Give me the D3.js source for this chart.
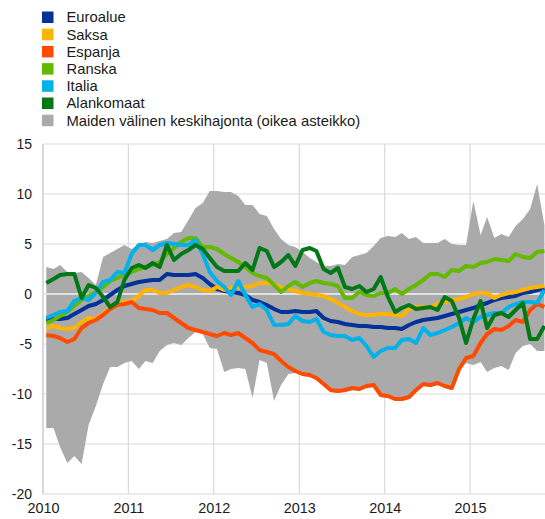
<!DOCTYPE html>
<html>
<head>
<meta charset="utf-8">
<script src="https://cdn.jsdelivr.net/npm/d3@7/dist/d3.min.js"></script>
<style>
  html, body { margin: 0; padding: 0; background: #fff; }
  svg { display: block; font-family: "Liberation Sans", Arial, sans-serif; }
</style>
</head>
<body>
<svg id="chart" width="545" height="519"></svg>
<script>
// Monthly observations, January 2010 – November 2015
const firstYear = 2010;
const monthCount = 71;

const seriesNames = ["Euroalue", "Saksa", "Espanja", "Ranska", "Italia", "Alankomaat"];
const seriesColors = ["#003299", "#ffb400", "#ff4b00", "#65b800", "#00b1ea", "#007816"];
const bandName = "Maiden välinen keskihajonta (oikea asteikko)";
const bandColor = "#aaaaaa";

const euroalue = [
  -2.5, -2.5, -2.5, -2.4, -2.0, -1.6, -1.2, -1.0, -0.6, -0.1, 0.4, 0.8,
  1.0, 1.2, 1.3, 1.4, 1.4, 2.0, 1.9, 1.9, 1.9, 2.0, 1.6, 1.0,
  0.5, 0.3, 0.2, 0.1, -0.1, -0.6, -0.8, -1.1, -1.5, -1.8, -1.8, -1.7,
  -1.8, -1.8, -1.7, -2.4, -2.7, -2.8, -3.0, -3.1, -3.2, -3.2, -3.3, -3.3,
  -3.4, -3.4, -3.5, -3.1, -2.8, -2.6, -2.5, -2.4, -2.2, -2.0, -1.8, -1.6,
  -1.4, -1.1, -0.9, -0.6, -0.4, -0.3, -0.2, 0.1, 0.2, 0.4, 0.6
];
const saksa = [
  -3.4, -3.2, -3.4, -3.5, -3.4, -2.8, -2.4, -2.5, -2.0, -1.3, -1.0, -0.8,
  -0.7, -0.2, 0.4, 0.4, 0.1, 0.1, 0.4, 0.7, 0.9, 0.7, 0.4, 0.3,
  0.7, 0.4, 0.6, 0.7, 0.7, 0.8, 1.1, 1.1, 1.0, 0.6, 0.5, 0.3,
  0.1, 0.0, -0.1, -0.2, -0.5, -0.9, -1.3, -1.7, -2.0, -2.1, -2.1, -2.0,
  -2.0, -2.1, -2.2, -1.5, -1.3, -1.3, -1.3, -1.0, -0.8, -0.6, -0.5, -0.3,
  0.0, 0.1, 0.1, -0.4, -0.1, 0.1, 0.2, 0.4, 0.6, 0.7, 0.8
];
const espanja = [
  -4.1, -4.2, -4.4, -4.8, -4.5, -3.4, -2.9, -2.6, -2.1, -1.5, -1.1, -1.0,
  -0.8, -1.4, -1.5, -1.6, -1.9, -1.9, -2.4, -2.9, -3.4, -3.6, -3.8, -4.0,
  -4.2, -3.9, -4.1, -3.9, -4.4, -4.9, -5.6, -5.8, -6.0, -6.7, -7.3, -7.7,
  -8.0, -8.1, -8.4, -9.0, -9.6, -9.7, -9.6, -9.4, -9.5, -9.2, -9.1, -10.1,
  -10.2, -10.5, -10.5, -10.3, -9.6, -9.0, -9.1, -8.9, -9.2, -9.4, -7.5, -6.4,
  -6.2, -4.9, -4.0, -3.5, -3.6, -3.2, -2.6, -2.8, -1.6, -1.0, -1.3
];
const ranska = [
  -2.9, -2.6, -2.2, -1.8, -1.2, -0.6, -0.2, 0.2, 0.7, 1.3, 1.6, 1.9,
  2.2, 2.5, 2.7, 2.9, 3.2, 4.0, 4.6, 5.2, 5.6, 5.6, 4.7, 4.7,
  4.5, 4.0, 3.6, 3.2, 2.7, 2.1, 1.8, 1.6, 0.9, 0.2, 0.8, 1.2,
  0.7, 1.1, 1.3, 1.1, 1.0, 0.8, -0.4, -0.4, 0.2, -0.1, -0.2, 0.1,
  0.1, 0.5, 0.0, 0.5, 0.9, 1.4, 2.0, 2.0, 1.7, 2.4, 2.3, 2.8,
  2.7, 3.1, 3.2, 3.5, 3.4, 3.3, 4.0, 3.7, 3.6, 4.2, 4.3
];
const italia = [
  -2.4, -2.1, -1.8, -1.7, -0.7, -0.4, -0.6, 0.1, 1.2, 1.4, 2.2, 2.1,
  4.0, 4.9, 4.9, 4.4, 4.9, 5.1, 5.0, 4.9, 4.9, 5.4, 4.0, 2.2,
  1.3, 0.7, -0.1, 1.3, -0.1, -1.3, -1.0, -1.6, -3.1, -3.1, -3.0, -2.2,
  -2.7, -2.8, -2.5, -3.8, -4.1, -4.2, -4.2, -4.6, -4.4, -5.2, -6.3, -5.7,
  -5.4, -5.4, -4.6, -4.5, -4.9, -3.4, -4.1, -3.9, -3.6, -3.3, -2.9, -2.4,
  -2.8, -2.3, -2.1, -1.9, -1.9, -1.3, -1.0, -0.8, -0.8, -0.9, 0.4
];
const alankomaat = [
  1.1, 1.5, 1.9, 2.0, 2.0, -0.4, 0.9, 0.6, -0.3, -1.3, -0.8, 1.4,
  2.6, 2.9, 2.6, 3.1, 2.7, 4.9, 3.4, 4.0, 4.4, 4.9, 4.5, 3.6,
  2.7, 2.3, 2.3, 2.3, 3.1, 2.4, 4.6, 4.3, 2.7, 3.2, 3.9, 2.8,
  4.4, 4.6, 4.3, 2.5, 2.1, 2.6, 0.7, 0.5, 0.8, 0.2, 0.5, 1.7,
  -0.3, -1.8, -1.4, -1.1, -1.5, -1.4, -1.3, -1.6, -0.3, -0.7, -2.4, -4.9,
  -2.5, -0.7, -3.4, -2.1, -1.9, -2.3, -1.6, -0.9, -4.5, -4.5, -3.2
];

// Cross-country dispersion band: upper and lower edges
const bandUpper = [
  2.7, 2.5, 2.9, 2.2, 2.1, 2.2, 1.6, 0.9, 3.7, 4.1, 4.5, 4.9,
  4.5, 5.0, 5.2, 5.1, 5.3, 5.5, 6.1, 6.2, 7.4, 8.6, 9.1, 10.3,
  10.3, 10.2, 10.2, 9.8, 8.9, 8.9, 8.0, 7.8, 6.5, 5.5, 4.9, 4.7,
  4.2, 3.6, 3.2, 2.8, 2.8, 3.0, 2.9, 3.7, 3.9, 4.1, 4.8, 5.6,
  5.8, 5.7, 6.1, 5.5, 5.7, 5.1, 5.1, 5.1, 5.5, 5.0, 4.9, 4.9,
  9.3, 5.9, 7.7, 5.6, 6.0, 5.7, 6.8, 7.5, 8.5, 11.0, 6.9
];
const bandLower = [
  -13.4, -13.4, -15.3, -16.9, -16.2, -17.0, -13.1, -11.2, -9.0, -7.3, -7.3, -6.9,
  -6.7, -7.5, -6.7, -6.9, -5.7, -5.1, -4.9, -5.1, -4.4, -3.8, -4.0, -5.4,
  -5.5, -7.8, -7.5, -7.4, -7.5, -10.4, -6.6, -6.9, -10.7, -9.1, -8.0, -7.9,
  -8.2, -8.3, -8.6, -9.2, -9.8, -9.9, -9.8, -9.6, -9.7, -9.4, -9.3, -10.3,
  -10.4, -10.7, -10.7, -10.5, -9.8, -9.2, -9.3, -9.1, -9.4, -9.6, -7.7, -6.9,
  -7.1, -6.8, -7.8, -7.4, -7.2, -7.6, -5.9, -5.2, -5.0, -5.7, -5.7
];

const yTicks = [-20, -15, -10, -5, 0, 5, 10, 15];
const yearLabels = ["2010", "2011", "2012", "2013", "2014", "2015"];

const seriesValues = [euroalue, saksa, espanja, ranska, italia, alankomaat];

const months = d3.range(monthCount).map(i => new Date(firstYear, i, 15));

const svg = d3.select("#chart");

const x = d3.scaleTime()
  .domain([new Date(2010, 0, 1), new Date(2016, 0, 1)])
  .range([43, 555.4]);
const y = d3.scaleLinear().domain([-20, 15]).range([494, 144]);

const gridColor = "#d9d9d9";

// Horizontal grid lines
svg.append("g")
  .selectAll("line")
  .data(yTicks)
  .join("line")
  .attr("x1", 43).attr("x2", 545)
  .attr("y1", d => y(d)).attr("y2", d => y(d))
  .attr("stroke", gridColor).attr("stroke-width", 1.2);

// Vertical grid lines at each year
svg.append("g")
  .selectAll("line")
  .data(yearLabels)
  .join("line")
  .attr("x1", d => x(new Date(+d, 0, 1))).attr("x2", d => x(new Date(+d, 0, 1)))
  .attr("y1", y(15)).attr("y2", y(-20))
  .attr("stroke", gridColor).attr("stroke-width", d => d === "2010" ? 2 : 1.2);

// Dispersion band
const area = d3.area()
  .x((d, i) => x(months[i]))
  .y0((d, i) => y(bandLower[i]))
  .y1((d, i) => y(bandUpper[i]));
svg.append("path")
  .datum(bandUpper)
  .attr("d", area)
  .attr("fill", bandColor);

// Zero line drawn over the band
svg.append("line")
  .attr("x1", 43).attr("x2", 545)
  .attr("y1", y(0)).attr("y2", y(0))
  .attr("stroke", "#e2e2e2").attr("stroke-width", 2);

// Country lines
const line = d3.line()
  .x((d, i) => x(months[i]))
  .y(d => y(d));
svg.append("g")
  .selectAll("path")
  .data(seriesValues)
  .join("path")
  .attr("d", line)
  .attr("fill", "none")
  .attr("stroke", (d, i) => seriesColors[i])
  .attr("stroke-width", 4)
  .attr("stroke-linejoin", "round");

// Y axis labels
const yAxis = d3.axisLeft(y).tickValues(yTicks).tickSize(0).tickPadding(0)
  .tickFormat(d => String(d));
const yg = svg.append("g").attr("transform", "translate(32,0)").call(yAxis);
yg.select(".domain").remove();
yg.selectAll("text")
  .attr("font-size", 14)
  .attr("font-family", "'Liberation Sans', Arial, sans-serif")
  .attr("fill", "#1a1a1a");

// X axis labels
const xAxis = d3.axisBottom(x)
  .tickValues(yearLabels.map(d => new Date(+d, 0, 1)))
  .tickSize(0).tickPadding(0)
  .tickFormat(d3.timeFormat("%Y"));
const xg = svg.append("g").attr("transform", "translate(0,503)").call(xAxis);
xg.select(".domain").remove();
xg.selectAll("text")
  .attr("font-size", 14.4)
  .attr("font-family", "'Liberation Sans', Arial, sans-serif")
  .attr("fill", "#1a1a1a");

// Legend
const legendItems = seriesNames.map((n, i) => ({ name: n, color: seriesColors[i] }))
  .concat([{ name: bandName, color: bandColor }]);
const legend = svg.append("g")
  .selectAll("g")
  .data(legendItems)
  .join("g")
  .attr("transform", (d, i) => `translate(42,${17.2 + i * 17.2})`);
legend.append("rect")
  .attr("x", 0).attr("y", -5.7)
  .attr("width", 11.5).attr("height", 11.5)
  .attr("fill", d => d.color);
legend.append("text")
  .attr("x", 24.5).attr("y", 5.2)
  .attr("font-size", 14.8)
  .attr("fill", "#1a1a1a")
  .text(d => d.name);
</script>
</body>
</html>
